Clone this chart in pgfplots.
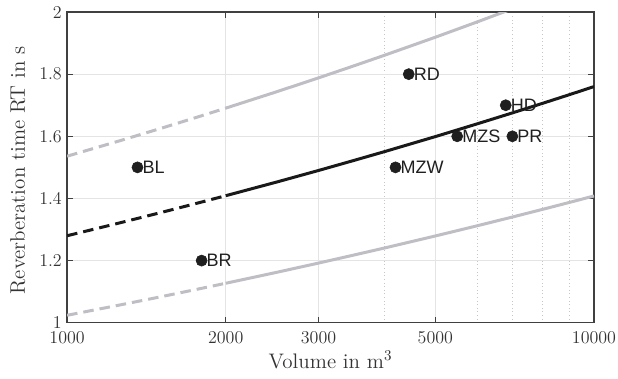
\documentclass[border=0pt]{standalone}
\usepackage{fontspec}
\usepackage{pgfplots}
\pgfplotsset{compat=1.18}
\newfontfamily\labelfont{Liberation Sans}
\definecolor{gline}{RGB}{190,190,196}
\definecolor{axcol}{RGB}{64,64,64}
\definecolor{gridc}{RGB}{228,228,228}
\begin{document}
\begin{tikzpicture}
\begin{axis}[
  name=ax,
  xmode=log,
  scale only axis,
  width=351pt, height=207pt,
  xmin=1000, xmax=10000, ymin=1, ymax=2,
  xtick={1000,2000,3000,5000,10000},
  xticklabels={1000,2000,3000,5000,10000},
  minor xtick={4000,6000,7000,8000,9000},
  ytick={1,1.2,1.4,1.6,1.8,2},
  yticklabels={1,1.2,1.4,1.6,1.8,2},
  grid=both,
  major grid style={gridc, line width=0.6pt},
  minor grid style={gridc!70!gray, dotted, line width=0.6pt},
  minor tick length=0pt,
  major tick length=4pt,
  tick style={axcol, line width=0.8pt},
  axis line style={axcol, line width=0.9pt},
  tick align=inside,
  ticklabel style={font=\fontsize{12}{14}\selectfont, text=black!80},
  xticklabel style={yshift=-2pt},
  label style={font=\fontsize{14}{16}\selectfont, text=black!80},
  xlabel={Volume in m$^3$},
  ylabel={Reverberation time RT in s},
  xlabel style={at={(axis description cs:0.5,0)}, anchor=base, yshift=-30.5pt},
  ylabel style={at={(axis description cs:0,0.5)}, anchor=base, yshift=28.2pt, xshift=-2pt},
  clip=true,
]
% upper tolerance
\addplot[gline, line width=2pt, dash pattern=on 7pt off 4pt] coordinates {
(1000,1.536) (1250,1.5841) (1500,1.6246) (1750,1.6596) (2000,1.6906)};
\addplot[gline, line width=2pt] coordinates {
(2000,1.6906) (2500,1.7435) (3000,1.7880) (3500,1.8266) (4000,1.8606) (5000,1.9189) (6000,1.9680) (7000,2.0104)};
% lower tolerance
\addplot[gline, line width=2pt, dash pattern=on 7pt off 4pt] coordinates {
(1000,1.024) (1250,1.0561) (1500,1.0830) (1750,1.1064) (2000,1.1270)};
\addplot[gline, line width=2pt] coordinates {
(2000,1.1270) (2500,1.1623) (3000,1.1920) (3500,1.2178) (4000,1.2404) (5000,1.2793) (6000,1.3120) (7000,1.3402) (8000,1.3652) (9000,1.3876) (10000,1.4080)};
% points
\addplot[only marks, mark=*, mark size=3.7pt, color=black!88,
  nodes near coords, point meta=explicit symbolic,
  nodes near coords style={anchor=west, xshift=3.2pt, inner sep=0pt, text=black!88,
    font=\labelfont\fontsize{12}{14}\selectfont}]
table[meta=label] {
x y label
1360 1.5 BL
1800 1.2 BR
4200 1.5 MZW
4450 1.8 RD
5500 1.6 MZS
6800 1.7 HD
7000 1.6 PR
};
% nominal
\addplot[black!90, line width=2pt, dash pattern=on 7pt off 4pt] coordinates {
(1000,1.280) (1250,1.3201) (1500,1.3538) (1750,1.3830) (2000,1.4088)};
\addplot[black!90, line width=2pt] coordinates {
(2000,1.4088) (2500,1.4529) (3000,1.4900) (3500,1.5222) (4000,1.5505) (5000,1.5991) (6000,1.6400) (7000,1.6753) (8000,1.7065) (9000,1.7345) (10000,1.7600)};
\end{axis}
\pgfresetboundingbox
\path ([xshift=-44.7pt,yshift=-37.3pt]ax.south west) rectangle ([xshift=16pt,yshift=8pt]ax.north east);
\end{tikzpicture}
\end{document}
